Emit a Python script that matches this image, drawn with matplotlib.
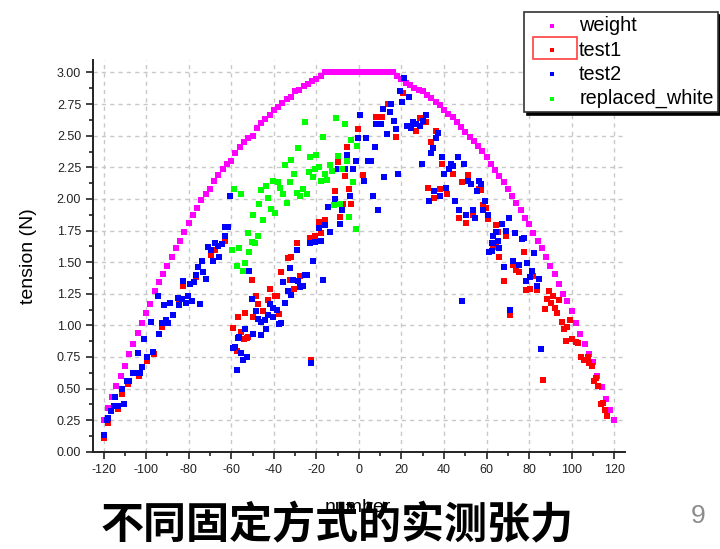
import matplotlib
matplotlib.use("Agg")
import matplotlib.pyplot as plt
from matplotlib.ticker import MultipleLocator
from matplotlib.patches import Rectangle

# weight curve (step 2 in "number")
weight_x = [-120, -118, -116, -114, -112, -110, -108, -106, -104, -102, -100, -98, -96, -94, -92, -90,
            -88, -86, -84, -82, -80, -78, -76, -74, -72, -70, -68, -66, -64, -62, -60, -58, -56, -54,
            -52, -50, -48, -46, -44, -42, -40, -38, -36, -34, -32, -30, -28, -26, -24, -22, -20, -18,
            -16, -14, -12, -10, -8, -6, -4, -2, 0, 2, 4, 6, 8, 10, 12, 14, 16, 18, 20, 22, 24, 26, 28,
            30, 32, 34, 36, 38, 40, 42, 44, 46, 48, 50, 52, 54, 56, 58, 60, 62, 64, 66, 68, 70, 72, 74,
            76, 78, 80, 82, 84, 86, 88, 90, 92, 94, 96, 98, 100, 102, 104, 106, 108, 110, 112, 114,
            116, 118, 120]
weight_y = [0.25, 0.35, 0.43, 0.52, 0.60, 0.68, 0.77, 0.85, 0.94, 1.02, 1.10, 1.17, 1.27, 1.34, 1.41,
            1.47, 1.54, 1.61, 1.67, 1.74, 1.81, 1.87, 1.93, 1.99, 2.04, 2.08, 2.14, 2.19, 2.24, 2.28,
            2.30, 2.36, 2.41, 2.45, 2.48, 2.50, 2.56, 2.60, 2.63, 2.66, 2.70, 2.73, 2.76, 2.79, 2.81,
            2.85, 2.86, 2.89, 2.91, 2.93, 2.95, 2.97, 3.00, 3.00, 3.00, 3.00, 3.00, 3.00, 3.00, 3.00,
            3.00, 3.00, 3.00, 3.00, 3.00, 3.00, 3.00, 3.00, 3.00, 2.97, 2.95, 2.92, 2.90, 2.88, 2.86,
            2.85, 2.82, 2.80, 2.77, 2.74, 2.70, 2.67, 2.65, 2.61, 2.57, 2.53, 2.49, 2.46, 2.42, 2.38,
            2.33, 2.28, 2.23, 2.18, 2.13, 2.08, 2.02, 1.97, 1.91, 1.85, 1.80, 1.73, 1.67, 1.61, 1.54,
            1.47, 1.41, 1.33, 1.25, 1.19, 1.11, 1.02, 0.93, 0.85, 0.77, 0.71, 0.60, 0.51, 0.42, 0.33,
            0.25]

test1_x = [-119.7, -118, -113, -111.4, -108.5, -103.5, -99.4, -96.3, -92.6, -84.4, -82.5, -76.6, -69.7,
           -67.6, -63, -59, -56.7,
           -57.5, -55.6, -52, -52.8, -54, -53.6, -49.7, -47.4, -45, -42.7, -37.5, -48.4, -39.5, -38.7,
           -41.9, -30.6, -50.4, -32.5, -27.8, -36.4, -33.3, -31.7, -29.3, -23.1, -20.8, -18, -18.9,
           -15.8, -22.6,
           -8.7, -7.5, -3.6, -11.4, -4.7, 1.9, -6.7, -9.7, -5.6, -0.5, 7.8, 8.2, 11, 13.6, 20.6, 17.2,
           28.5, 31.3, 26.6, 36, 33.9, 39.1, 44.1, 51.3, 48.5, 56.6, 57.4, 32.4, 38.2, 35.2, 41.3, 58.5,
           59.7, 60.5, 47.2, 50.3, 53.4, 64.4, 65.2, 69.1, 62.8, 64.4, 66, 72.2, 73.8, 75.3, 68.2, 78.5,
           71.1, 77.4, 81.6, 80.4, 83.5, 89.4, 91.3, 88.6, 90.2, 94.1, 87.5, 92.2, 93.3, 95.2, 99.1,
           96.4, 98, 97.2, 100.3, 101.9, 103.1, 104.3, 105.8, 107.4, 108.2, 109.7, 86.3, 110.5, 111.6,
           112.5, 113.6, 114.7, 115.7, 116.7]
test1_y = [0.11, 0.23, 0.34, 0.46, 0.54, 0.60, 0.72, 0.77, 0.99, 1.19, 1.31, 1.38, 1.56,
           1.60, 1.67, 0.98, 1.07,
           0.80, 0.95, 0.91, 0.90, 0.89, 1.10, 1.07, 1.17, 1.11, 1.20, 1.09, 1.23, 1.23, 1.23,
           1.29, 1.29, 1.36, 1.36, 1.39, 1.42, 1.53, 1.54, 1.65, 1.69, 1.71, 1.73, 1.82,
           1.83, 0.73,
           1.86, 1.96, 1.96, 2.06, 2.08, 2.19, 2.18, 2.29, 2.41, 2.55, 2.65, 2.65, 2.65, 2.75, 2.84, 2.49,
           2.64, 2.61, 2.54, 2.54, 2.45, 2.28, 2.20, 2.19, 2.13, 2.08, 2.07, 2.09, 2.08, 2.01, 2.04, 1.95,
           1.93, 1.84, 1.85, 1.81, 1.87, 1.79, 1.74, 1.71, 1.63, 1.62, 1.54, 1.48, 1.44, 1.42, 1.35, 1.28,
           1.08, 1.58, 1.39, 1.29, 1.28, 1.27, 1.23, 1.21, 1.18, 1.20, 1.13, 1.14, 1.10, 1.03, 1.04,
           0.97, 0.99, 0.88, 0.89, 0.87, 0.86, 0.75, 0.73, 0.75, 0.70, 0.68, 0.57, 0.56, 0.58,
           0.52, 0.38, 0.39, 0.33, 0.28]

test2_x = [-119.7, -118.4, -117.7, -116.6, -115.3, -113, -110.6, -114.5, -111.4, -109, -107.8, -106,
           -104.4, -102.8, -101.7, -99.4, -96.6, -103.9, -100.8, -97.7, -93.8, -92.6, -90.6, -89.5,
           -91.6, -88.8, -87.2, -94.5, -84.9, -83.3, -84.4, -81.3, -78.6, -80.5, -74.7, -82.5, -79.4,
           -77.5, -76.6, -75.8, -73.1, -71.9, -73.9, -70.8, -69.7, -68.7, -67.6, -66.1, -64.5, -65.8,
           -63, -63, -61.7, -60.6, -59.1, -58.3, -57.5, -56.7,
           -55.5, -54.4, -52.5, -56.4, -53.6, -49.7, -45.8, -43.7, -47.4, -45.8, -44.2, -42.7, -40.3,
           -37.5, -36.4, -48.4, -40.3, -38.7, -41.9, -34.8, -50.4, -31.7, -33.3, -27.5, -26.5, -30.9,
           -28.6, -25.5, -24.4, -16.9, -35.6, -51.6, -32.5, -21.6, -29.3, -23.1, -20.8, -18, -18.8,
           -16.1, -13.7, -22.6,
           -14.5, -7.8, -8.7, -11.4, -4.4, 6.6, 8.9, 2.2, -9.8, -6.7, -2.8, -1.5, 4.2, 5.8, -5.6, 7.4,
           -0.5, 3.5, 0.3, 8.2, 12, 18.3, 21.4, 19.4, 23.4, 20.3, 15.2, 11.3, 14.4, 16.3, 10.2, 17.2, 13.3,
           31.6, 25.3, 26.9, 28.5, 30.3, 22.5, 24.6, 37, 36.3, 34.7, 33.9, 29.5, 39.1, 46.4, 44.1, 43.3,
           42.2, 40.2, 49.2, 51.4, 52.7, 56.6, 57.4, 55.3, 35.2, 41, 38.2, 32.7, 45.3, 59.4, 58.5, 60.5,
           47.2, 53.4, 50.3, 54.4, 70.3, 67.2, 69.1, 64.4, 63.2, 73.3, 77.4, 76.6, 65.2, 62.5, 63.2, 66,
           61.3, 62.4, 72.2, 75, 78.8, 68.2, 78.5, 48.3, 71.1, 82.4, 81.3, 80.5, 84.4, 83.5, 85.5]
test2_y = [0.13, 0.25, 0.27, 0.32, 0.36, 0.36, 0.38, 0.43, 0.50, 0.56, 0.56, 0.62,
           0.62, 0.62, 0.67, 0.75, 0.79, 0.78, 0.89, 1.03, 0.93, 1.02, 1.04, 1.02,
           1.16, 1.18, 1.08, 1.23, 1.22, 1.21, 1.16, 1.18, 1.19, 1.23, 1.17, 1.35, 1.33,
           1.34, 1.40, 1.46, 1.42, 1.37, 1.51, 1.62, 1.60, 1.51, 1.65, 1.63, 1.64, 1.54,
           1.71, 1.78, 1.78, 2.02, 0.82, 0.83, 0.65, 0.90,
           0.78, 0.73, 0.75, 0.91, 0.97, 0.93, 0.92, 0.97, 1.05, 1.03, 1.04, 1.08, 1.07,
           1.01, 1.02, 1.11, 1.14, 1.12, 1.17, 1.18, 1.21, 1.24, 1.27, 1.30, 1.31, 1.36,
           1.35, 1.40, 1.40, 1.36, 1.34, 1.43, 1.45, 1.51, 1.60, 1.65, 1.66, 1.67, 1.77,
           1.79, 1.74, 0.70,
           1.94, 1.91, 1.80, 2.00, 2.02, 2.02, 1.91, 2.14, 2.24, 2.24, 2.24, 2.30, 2.30, 2.30, 2.35, 2.41,
           2.48, 2.48, 2.66, 2.59, 2.17, 2.20, 2.96, 2.85, 2.81, 2.77, 2.75, 2.71, 2.69, 2.62, 2.59, 2.55, 2.51,
           2.66, 2.61, 2.59, 2.58, 2.62, 2.58, 2.56, 2.52, 2.48, 2.40, 2.36, 2.28, 2.33, 2.33, 2.26, 2.28,
           2.24, 2.20, 2.28, 2.14, 2.12, 2.14, 2.12, 2.06, 2.06, 2.09, 2.02, 1.98, 1.98, 1.98, 1.91, 1.87,
           1.91, 1.91, 1.87, 1.85, 1.85, 1.80, 1.75, 1.74, 1.71, 1.73, 1.69, 1.68, 1.67, 1.65, 1.65, 1.61,
           1.58, 1.59, 1.51, 1.48, 1.49, 1.46, 1.35, 1.19, 1.12, 1.57, 1.43, 1.38, 1.37, 1.31, 0.81]

white_x = [-25.5, -10.6, -6.7, -16.9, -28.6, -3.6, -0.8, -31.7, -34.5, -22.8, -20, -9.8, -5.4, -13.7,
           -30.6, -23.4, -20.8, -18.9, -15.9, -12.7, -7.8, -21.6, -18, -15, -2.8, -32.5, -40.6, -38,
           -37.2, -43.7, -45.8, -35.6, -29.3, -26.5, -27.5, -24.4, -42.7, -58.6, -55.5, -46.9, -33.6,
           -41.5, -39.5, -49.7, -45, -11.7, -8.7, -4.7, -1.5, -52.3, -47.6, -50.4, -48.6, -59.4, -56.4,
           -51.6, -57.5, -53.6, -54.4]
white_y = [2.61, 2.64, 2.59, 2.49, 2.40, 2.47, 2.42, 2.31, 2.27, 2.33, 2.35, 2.34, 2.30, 2.27,
           2.20, 2.21, 2.24, 2.25, 2.20, 2.22, 2.24, 2.17, 2.14, 2.15, 2.13, 2.13, 2.14, 2.13,
           2.09, 2.10, 2.07, 2.04, 2.05, 2.08, 2.02, 2.04, 2.01, 2.08, 2.04, 1.96, 1.97,
           1.92, 1.89, 1.87, 1.83, 1.95, 1.96, 1.86, 1.76, 1.73, 1.71, 1.66, 1.65, 1.60, 1.61,
           1.58, 1.47, 1.49, 1.43]

plt.rcParams['font.family'] = ['Liberation Sans', 'DejaVu Sans']
plt.rcParams['axes.unicode_minus'] = False

fig = plt.figure(figsize=(7.2, 5.49), dpi=100)
ax = fig.add_axes([0.129, 0.177, 0.739, 0.714])

ms = 25
ax.scatter(weight_x, weight_y, s=ms, marker='s', color='#ff00ff', linewidths=0, label='weight', zorder=3)
ax.scatter(test1_x, test1_y, s=ms, marker='s', color='#ff0000', linewidths=0, label='test1', zorder=3)
ax.scatter(test2_x, test2_y, s=ms, marker='s', color='#0000ff', linewidths=0, label='test2', zorder=3)
ax.scatter(white_x, white_y, s=ms, marker='s', color='#00ff00', linewidths=0, label='replaced_white', zorder=3)

ax.set_xlim(-125, 125)
ax.set_ylim(0, 3.1)
ax.xaxis.set_major_locator(MultipleLocator(20))
ax.xaxis.set_minor_locator(MultipleLocator(10))
ax.yaxis.set_major_locator(MultipleLocator(0.25))
ax.yaxis.set_minor_locator(MultipleLocator(0.125))
ax.yaxis.set_major_formatter(plt.FuncFormatter(lambda v, p: '%.2f' % v))
ax.grid(True, which='major', linestyle=(0, (3, 3)), color='#c8c8c8', linewidth=1)
ax.set_axisbelow(True)

for s in ['top', 'right']:
    ax.spines[s].set_visible(False)
for s in ['left', 'bottom']:
    ax.spines[s].set_linewidth(1.4)
    ax.spines[s].set_color('#222222')
ax.tick_params(which='major', length=5, width=1.2, direction='out', labelsize=9,
               colors='#222222', labelcolor='#222222')
ax.tick_params(which='minor', length=3, width=1.2, direction='out', colors='#222222')
for lab in ax.get_xticklabels() + ax.get_yticklabels():
    lab.set_family(['Liberation Sans Narrow', 'Liberation Sans'])

ax.set_ylabel('tension (N)', fontsize=14, labelpad=14)
fig.text(0.497, 0.076, 'number', fontsize=14, ha='center', va='center')

leg = ax.legend(loc='upper right', bbox_to_anchor=(718 / 720, 1 - 12 / 549),
                bbox_transform=fig.transFigure, fontsize=14.3, frameon=True, fancybox=False,
                shadow={'color': 'black', 'alpha': 1}, edgecolor='#333333', markerscale=0.6,
                labelspacing=0.26, handletextpad=0.2, borderpad=0.22, handlelength=2.35,
                borderaxespad=0)
leg.get_frame().set_linewidth(1.2)

fig.patches.append(Rectangle((533 / 720, 1 - 59 / 549), 44 / 720, 22 / 549,
                             transform=fig.transFigure, fill=False, edgecolor='#ff4040',
                             linewidth=1.2, zorder=10))

fig.text(0.468, 0.043, '不同固定方式的实测张力', fontsize=31, fontweight='bold', ha='center', va='center',
         family=['Noto Sans CJK SC', 'DejaVu Sans'])
fig.text(0.97, 0.06, '9', fontsize=19, color='#8c8c8c', ha='center', va='center')

fig.savefig('out.png', dpi=100)
